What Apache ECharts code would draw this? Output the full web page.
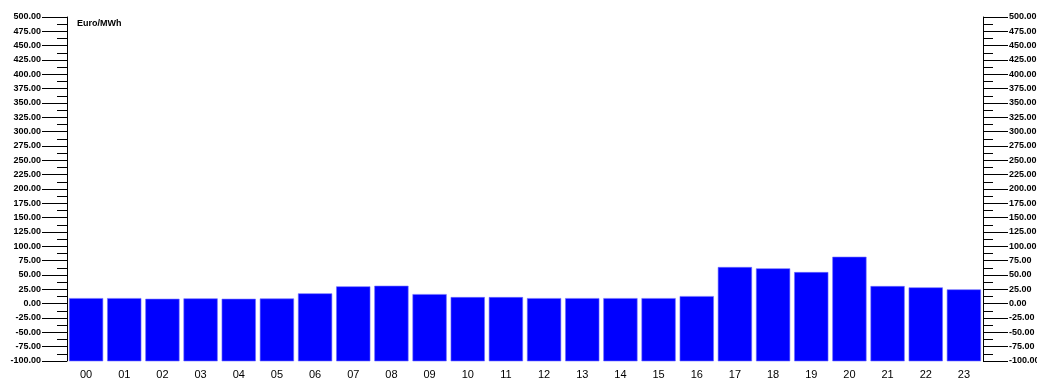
<!DOCTYPE html>
<html>
<head>
<meta charset="utf-8">
<script src="https://cdn.jsdelivr.net/npm/echarts@6/dist/echarts.min.js"></script>
<style>
  html, body { margin: 0; padding: 0; background: #fff; }
  #chart { width: 1037px; height: 379px; }
</style>
</head>
<body>
<div id="chart"></div>
<script>
// Hourly price, Euro/MWh
const hours = ['00','01','02','03','04','05','06','07','08','09','10','11',
               '12','13','14','15','16','17','18','19','20','21','22','23'];
const prices = [9.2, 9.2, 8.0, 8.7, 8.0, 8.5, 17.5, 29.7, 30.7, 16.2, 11.0, 11.0,
                9.2, 9.2, 9.2, 9.2, 12.7, 63.4, 61.1, 54.6, 81.3, 30.2, 27.9, 24.4];
const unitLabel = 'Euro/MWh';
const yMin = -100;
const yMax = 500;
const yStep = 25;

const chart = echarts.init(document.getElementById('chart'), null, { renderer: 'canvas' });

function valueAxis(position) {
  return {
    type: 'value',
    position: position,
    min: yMin,
    max: yMax,
    interval: yStep,
    axisLine: { show: true, lineStyle: { color: '#000', width: 1 } },
    axisTick: { show: true, length: 25, lineStyle: { color: '#000', width: 1 } },
    minorTick: { show: true, splitNumber: 2, length: 10, lineStyle: { color: '#000', width: 1 } },
    splitLine: { show: false },
    minorSplitLine: { show: false },
    axisLabel: {
      margin: 26,
      color: '#000',
      fontFamily: 'Liberation Sans, Arial, sans-serif',
      fontWeight: 'bold',
      fontSize: 9,
      formatter: v => v.toFixed(2)
    }
  };
}

chart.setOption({
  animation: false,
  backgroundColor: '#fff',
  grid: { left: 67, right: 54, top: 17, bottom: 18, containLabel: false, outerBoundsMode: 'none' },
  title: {
    text: unitLabel,
    left: 72,
    top: 14,
    textStyle: { fontFamily: 'Liberation Sans, Arial, sans-serif', fontWeight: 'bold', fontSize: 9, color: '#000' }
  },
  xAxis: {
    type: 'category',
    data: hours,
    axisLine: { show: false },
    axisTick: { show: false },
    axisLabel: {
      margin: 8,
      color: '#000',
      fontFamily: 'Liberation Sans, Arial, sans-serif',
      fontSize: 11
    }
  },
  yAxis: [valueAxis('left'), valueAxis('right')],
  series: [{
    type: 'custom',
    xAxisIndex: 0,
    yAxisIndex: 0,
    data: prices.map((v, i) => [i, v]),
    // Bars rise from the bottom of the value axis up to each hour's price
    renderItem: function (params, api) {
      const i = api.value(0);
      const v = api.value(1);
      const top = api.coord([i, v]);
      const base = api.coord([i, yMin]);
      const w = api.size([1, 0])[0] * 0.88;
      return {
        type: 'rect',
        shape: { x: top[0] - w / 2, y: top[1], width: w, height: base[1] - top[1] },
        style: { fill: '#0000ff', stroke: '#6f6fff', lineWidth: 0.6 }
      };
    }
  }]
});
</script>
</body>
</html>
